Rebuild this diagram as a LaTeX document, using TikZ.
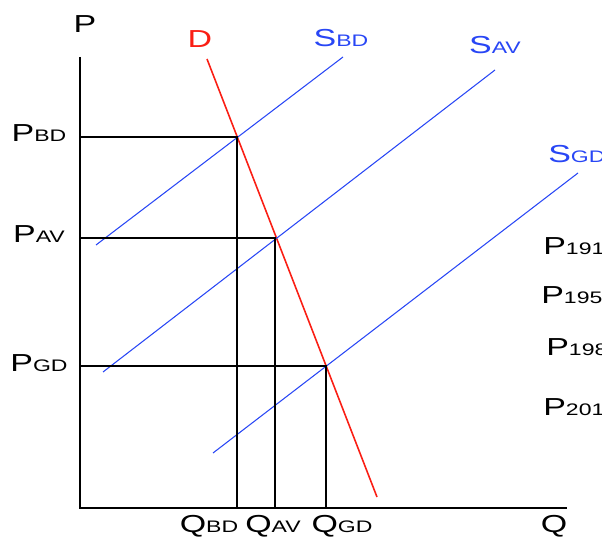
\documentclass[tikz,border=0pt]{standalone}
\usepackage{fontspec}
\setmainfont{Liberation Sans}[FakeStretch=1.38]
\usetikzlibrary{calc,positioning}
\newcommand\sm[1]{{\fontsize{9.5}{10}\selectfont #1}}
\definecolor{supblue}{RGB}{40,70,245}
\definecolor{demred}{RGB}{250,30,20}
\begin{document}
\begin{tikzpicture}[x=0.02cm,y=-0.02cm,
  font=\fontsize{14}{16}\selectfont,
  axis/.style={line width=1.1pt,black},
  guide/.style={line width=1pt,black},
  supply/.style={line width=.6pt,supblue},
  demand/.style={line width=.9pt,demred},
  lab/.style={anchor=base,inner sep=0pt},
  yr/.style={anchor=base west,inner sep=0pt}]
\useasboundingbox (0,0) rectangle (602,540);
% axes
\coordinate (O) at (80,508);
\coordinate (ytop) at (80,57);
\coordinate (xend) at (567,508);
\draw[axis] (ytop)--(O)--(xend);
\node[lab] (P) at (85,33) {P};
\node[lab] (Q) at (554,533) {Q};
% demand
\coordinate (d1) at (207,59);
\coordinate (d2) at (377,497);
\draw[demand] (d1)--(d2);
\node[lab,text=demred] (D) at (200,48) {D};
% supply curves
\coordinate (sbd1) at (96,245);
\coordinate (sbd2) at (343,57);
\coordinate (sav1) at (103,372);
\coordinate (sav2) at (495,70);
\coordinate (sgd1) at (213,453);
\coordinate (sgd2) at (578,173);
\draw[supply] (sbd1)--(sbd2);
\draw[supply] (sav1)--(sav2);
\draw[supply] (sgd1)--(sgd2);
\node[lab,text=supblue] (SBD) at (341,47) {S\sm{BD}};
\node[lab,text=supblue] (SAV) at (495,54) {S\sm{AV}};
\node[yr,text=supblue] (SGD) at (548,163) {S\sm{GD}};
% equilibria
\coordinate (eBD) at (237,137);
\coordinate (eAV) at (275,238);
\coordinate (eGD) at (326,366);
\foreach \e in {eBD,eAV,eGD}{
  \draw[guide] (O |- \e)--(\e)--(\e |- O);
}
\node[lab] (PBD) at (39,142) {P\sm{BD}};
\node[lab] (PAV) at (39,243) {P\sm{AV}};
\node[lab] (PGD) at (39,372) {P\sm{GD}};
\node[lab] (QBD) at (209,533) {Q\sm{BD}};
\node[lab] (QAV) at (273,533) {Q\sm{AV}};
\node[lab] (QGD) at (342,533) {Q\sm{GD}};
% year prices
\node[yr] (P191) at (543,255) {P\sm{191}};
\node[yr] (P195) at (541,304) {P\sm{195}};
\node[yr] (P198) at (546,356) {P\sm{198}};
\node[yr] (P201) at (543,416) {P\sm{201}};
\end{tikzpicture}
\end{document}
